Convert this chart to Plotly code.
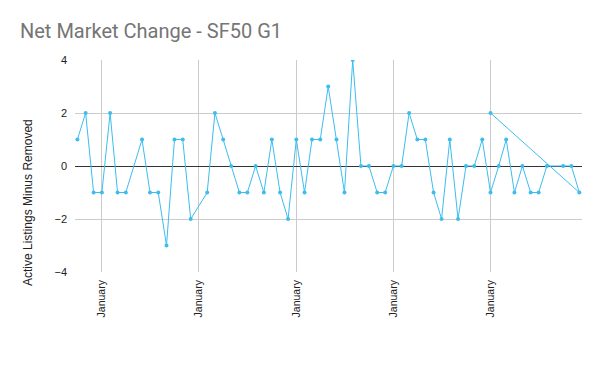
import plotly.graph_objects as go

dates = [
    "2014-10-01", "2014-11-01", "2014-12-01",
    "2015-01-01", "2015-02-01", "2015-03-01", "2015-04-01", "2015-06-01", "2015-07-01",
    "2015-08-01", "2015-09-01", "2015-10-01", "2015-11-01", "2015-12-01",
    "2016-02-01", "2016-03-01", "2016-04-01", "2016-05-01", "2016-06-01", "2016-07-01",
    "2016-08-01", "2016-09-01", "2016-10-01", "2016-11-01", "2016-12-01",
    "2017-01-01", "2017-02-01", "2017-03-01", "2017-04-01", "2017-05-01", "2017-06-01",
    "2017-07-01", "2017-08-01", "2017-09-01", "2017-10-01", "2017-11-01", "2017-12-01",
    "2018-01-01", "2018-02-01", "2018-03-01", "2018-04-01", "2018-05-01", "2018-06-01",
    "2018-07-01", "2018-08-01", "2018-09-01", "2018-10-01", "2018-11-01", "2018-12-01",
    "2019-01-01", "2019-02-01", "2019-03-01", "2019-04-01", "2019-05-01", "2019-06-01",
    "2019-07-01", "2019-08-01", "2019-10-01", "2019-11-01", "2019-12-01",
    "2019-01-01",
]
values = [
    1, 2, -1,
    -1, 2, -1, -1, 1, -1,
    -1, -3, 1, 1, -2,
    -1, 2, 1, 0, -1, -1,
    0, -1, 1, -1, -2,
    1, -1, 1, 1, 3, 1,
    -1, 4, 0, 0, -1, -1,
    0, 0, 2, 1, 1, -1,
    -2, 1, -2, 0, 0, 1,
    -1, 0, 1, -1, 0, -1,
    -1, 0, 0, 0, -1,
    2,
]

tick_vals = ["2015-01-01", "2016-01-01", "2017-01-01", "2018-01-01", "2019-01-01"]
tick_text = ["January"] * 5
y_ticks = [-4, -2, 0, 2, 4]
y_title = "Active Listings Minus Removed"
chart_title = "Net Market Change - SF50 G1"

color = "#3cbdee"
axis_font = "Liberation Sans, Arial, sans-serif"

fig = go.Figure()
fig.add_trace(go.Scatter(
    x=dates, y=values, mode="lines+markers",
    line=dict(color=color, width=1),
    marker=dict(color=color, size=4),
    showlegend=False,
))

fig.update_layout(
    width=600, height=371,
    margin=dict(l=75, r=18, t=60, b=99, autoexpand=False),
    paper_bgcolor="white", plot_bgcolor="white",
    font=dict(family=axis_font, color="#222222", size=11),
    title=dict(text=chart_title, x=20/600, xref="container",
               xanchor="left", y=1 - 31/371, yref="container", yanchor="middle",
               automargin=False, pad=dict(l=0, r=0, t=0, b=0),
               font=dict(family="Roboto", size=20, color="#757575")),
    xaxis=dict(
        type="date", range=["2014-09-22", "2019-12-11"], automargin=False,
        tickmode="array", tickvals=tick_vals, ticktext=tick_text,
        tickangle=-90, showgrid=True, gridcolor="#cccccc", gridwidth=1,
        showline=False, zeroline=False, ticks="", ticklabelstandoff=5,
        tickfont=dict(family=axis_font, size=10.5, color="#222222"),
    ),
    yaxis=dict(
        range=[-4, 4], tickmode="array", tickvals=y_ticks, automargin=False,
        showgrid=True, gridcolor="#cccccc", gridwidth=1,
        zeroline=True, zerolinecolor="#333333", zerolinewidth=1,
        showline=False, ticks="", ticklabelstandoff=7,
        tickfont=dict(family=axis_font, size=11, color="#222222"),
    ),
    annotations=[dict(
        text=y_title, textangle=-90, showarrow=False,
        xref="paper", yref="paper",
        x=(28 - 75) / 507, y=(272 - 203) / 212,
        xanchor="center", yanchor="middle",
        font=dict(family=axis_font, size=12, color="#222222"),
    )],
)

fig.write_html("out.html", config={"displayModeBar": False},
               post_script="document.body.style.margin='0';document.body.style.padding='0';")
